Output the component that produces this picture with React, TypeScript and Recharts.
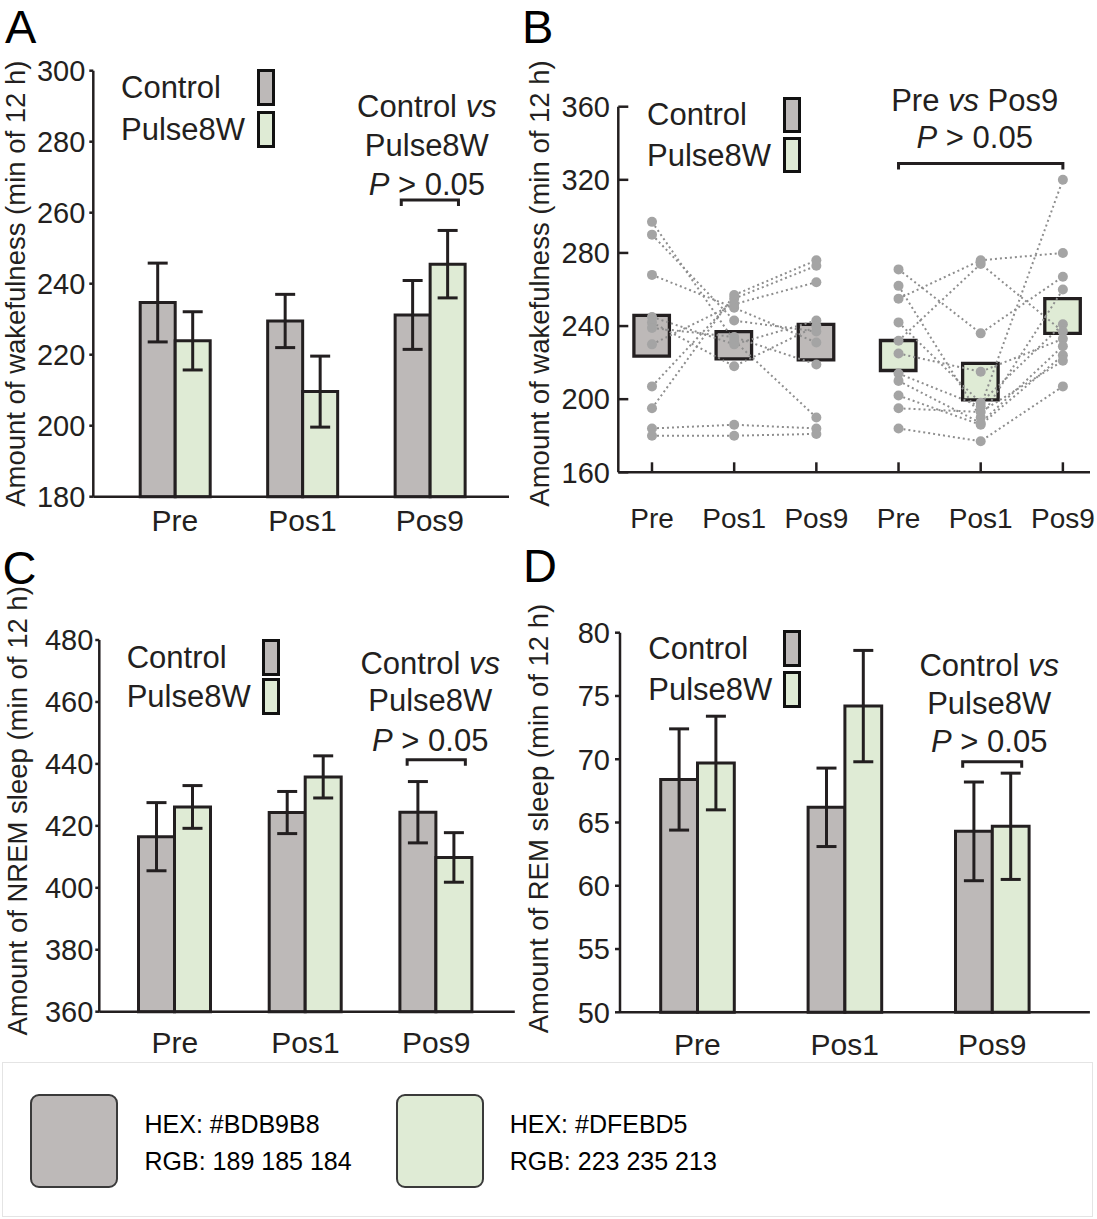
import React from "react"
import {
  BarChart,
  Bar,
  ComposedChart,
  Line,
  XAxis,
  YAxis,
  ErrorBar,
  Cell,
  Legend,
  ReferenceDot,
  ReferenceLine,
} from "recharts"

const INK = "#231f20"
const FONT = '"Liberation Sans", Arial, Helvetica, sans-serif'
const CONTROL_FILL = "#BDB9B8"
const PULSE_FILL = "#DFEBD5"
const MOUSE_DOT = "#a4a4a4"
const MOUSE_LINE = "#8e8e8e"

const phases = ["Pre", "Pos1", "Pos9"]
const groupNames = ["Control", "Pulse8W"]
const groupFills = [CONTROL_FILL, PULSE_FILL]
const groupRgb = ["189 185 184", "223 235 213"]

// wakefulness, mean ± SEM (min of 12 h) – panel A bars and panel B boxes
const wakeControlMean = [234.7, 229.5, 231.2]
const wakeControlSem = [11.1, 7.5, 9.7]
const wakePulseMean = [223.9, 209.6, 245.5]
const wakePulseSem = [8.2, 10, 9.5]

// panel B, single mice (same index = same mouse across phases)
const controlPreMice = [297, 290, 268, 245, 242, 239, 230, 207, 195, 184, 180]
const controlPos1Mice = [232, 243, 250, 230, 218, 234, 252, 255, 257, 186, 180]
const controlPos9Mice = [190, 237, 231, 243, 240, 219, 264, 273, 276, 184, 181]
const pulsePreMice = [271, 262, 255, 242, 232, 225, 214, 210, 202, 195, 184]
const pulsePos1Mice = [236, 190, 276, 198, 274, 215, 196, 187, 186, 193, 177]
const pulsePos9Mice = [267, 260, 280, 241, 237, 233, 320, 229, 224, 221, 207]

// NREM sleep (panel C)
const nremControlMean = [416.5, 424.3, 424.4]
const nremControlSem = [11, 6.8, 9.9]
const nremPulseMean = [426.1, 435.8, 409.8]
const nremPulseSem = [6.9, 6.8, 8]

// REM sleep (panel D)
const remControlMean = [68.4, 66.2, 64.3]
const remControlSem = [4, 3.1, 3.9]
const remPulseMean = [69.7, 74.2, 64.7]
const remPulseSem = [3.7, 4.4, 4.2]

const wakeTicks = [180, 200, 220, 240, 260, 280, 300]
const mouseTicks = [160, 200, 240, 280, 320, 360]
const nremTicks = [360, 380, 400, 420, 440, 460, 480]
const remTicks = [50, 55, 60, 65, 70, 75, 80]

const barRows = (cm: number[], cs: number[], pm: number[], ps: number[]) =>
  phases.map((phase, i) => ({ phase, control: cm[i], controlSem: cs[i], pulse: pm[i], pulseSem: ps[i] }))

const wakeRows = barRows(wakeControlMean, wakeControlSem, wakePulseMean, wakePulseSem)
const nremRows = barRows(nremControlMean, nremControlSem, nremPulseMean, nremPulseSem)
const remRows = barRows(remControlMean, remControlSem, remPulseMean, remPulseSem)

const controlMice = [controlPreMice, controlPos1Mice, controlPos9Mice]
const pulseMice = [pulsePreMice, pulsePos1Mice, pulsePos9Mice]
const mouseRows = [...controlMice, ...pulseMice].map((mice, i) => {
  const g = i < 3 ? 0 : 1
  const p = i % 3
  const mean = g === 0 ? wakeControlMean[p] : wakePulseMean[p]
  const sem = g === 0 ? wakeControlSem[p] : wakePulseSem[p]
  const row: Record<string, any> = { x: i + 1, label: phases[p], group: g, box: [mean - sem, mean + sem] }
  mice.forEach((v, m) => {
    row[`${g === 0 ? "c" : "p"}${m}`] = v
  })
  return row
})
const mouseKeys = [...controlPreMice.map((_, m) => `c${m}`), ...pulsePreMice.map((_, m) => `p${m}`)]

const axisStroke = { stroke: INK, strokeWidth: 2.5 }

type Seg = { t: string; it?: boolean }
const groupNote: Seg[][] = [
  [{ t: "Control " }, { t: "vs", it: true }],
  [{ t: "Pulse8W" }],
  [{ t: "P", it: true }, { t: " > 0.05" }],
]
const phaseNote: Seg[][] = [
  [{ t: "Pre " }, { t: "vs", it: true }, { t: " Pos9" }],
  [{ t: "P", it: true }, { t: " > 0.05" }],
]

function noteText(lines: Seg[][], x: number, ys: number[]) {
  return lines.map((segs, i) => (
    <text key={i} x={x} y={ys[i]} textAnchor="middle" fontSize={31} fill={INK}>
      {segs.map((s, j) => (
        <tspan key={j} fontStyle={s.it ? "italic" : "normal"}>
          {s.t}
        </tspan>
      ))}
    </text>
  ))
}

function bracketPath(x1: number, x2: number, y: number) {
  return `M${x1},${y + 6}V${y}H${x2}V${y + 6}`
}

type KeyPos = { textX: number; swatchX: number; top: number; rowH: number; gap: number }

function GroupKey({ pos }: { pos: KeyPos }) {
  return (
    <div style={{ fontFamily: FONT }}>
      {groupNames.map((name, i) => (
        <div
          key={name}
          style={{ display: "flex", alignItems: "center", height: pos.rowH, marginBottom: i === 0 ? pos.gap : 0 }}
        >
          <span
            style={{
              marginLeft: pos.textX,
              width: pos.swatchX - pos.textX,
              fontSize: 31,
              lineHeight: 1,
              color: INK,
              whiteSpace: "nowrap",
            }}
          >
            {name}
          </span>
          <div
            style={{
              width: 18,
              height: pos.rowH,
              boxSizing: "border-box",
              border: "3px solid #111",
              background: groupFills[i],
            }}
          />
        </div>
      ))}
    </div>
  )
}

function keyLegend(pos: KeyPos) {
  return (
    <Legend
      layout="vertical"
      align="center"
      verticalAlign="middle"
      wrapperStyle={{ left: 0, top: pos.top, width: pos.swatchX + 20, height: "auto" }}
      content={() => <GroupKey pos={pos} />}
    />
  )
}

type BarPanelProps = {
  rows: any[]
  left: number
  top: number
  width: number
  height: number
  plotLeft: number
  plotTop: number
  plotRight: number
  plotBottom: number
  padL: number
  padR: number
  barSize: number
  domain: [number, number]
  ticks: number[]
  yLabel: string
  labelX: number
  labelDy: number
  yTickSize: number
  yTickMargin: number
  xTickMargin: number
  keyPos: KeyPos
  bracketY: number
  bracketHalf: number
  noteDx: number
  noteYs: number[]
}

function BarPanel(p: BarPanelProps) {
  return (
    <div style={{ position: "absolute", left: p.left, top: p.top }}>
      <BarChart
        width={p.width}
        height={p.height}
        data={p.rows}
        margin={{ top: p.plotTop, right: p.width - p.plotRight, bottom: 0, left: 0 }}
        barGap={0}
        barSize={p.barSize}
      >
        <XAxis
          dataKey="phase"
          height={p.height - p.plotBottom}
          padding={{ left: p.padL, right: p.padR }}
          interval={0}
          tickLine={false}
          tickSize={0}
          tickMargin={p.xTickMargin}
          axisLine={axisStroke}
          tick={{ fontSize: 30, fill: INK }}
        />
        <YAxis
          width={p.plotLeft}
          domain={p.domain}
          ticks={p.ticks}
          interval={0}
          tickSize={p.yTickSize}
          tickMargin={p.yTickMargin}
          tickLine={axisStroke}
          axisLine={axisStroke}
          tick={{ fontSize: 29, fill: INK }}
          label={{
            value: p.yLabel,
            angle: -90,
            position: "insideLeft",
            offset: p.labelX,
            dy: p.labelDy,
            fontSize: 27.5,
            fill: INK,
            style: { textAnchor: "middle", fontSize: 27.5, fill: INK },
          }}
        />
        {keyLegend(p.keyPos)}
        <Bar dataKey="control" name="Control" fill={CONTROL_FILL} stroke={INK} strokeWidth={3} isAnimationActive={false}>
          <ErrorBar dataKey="controlSem" width={10} stroke={INK} strokeWidth={3} isAnimationActive={false} />
        </Bar>
        <Bar dataKey="pulse" name="Pulse8W" fill={PULSE_FILL} stroke={INK} strokeWidth={3} isAnimationActive={false}>
          <ErrorBar dataKey="pulseSem" width={10} stroke={INK} strokeWidth={3} isAnimationActive={false} />
        </Bar>
        <ReferenceDot
          x="Pos9"
          y={p.bracketY}
          r={2}
          shape={(s: any) => (
            <g>
              <path
                d={bracketPath(s.cx - p.bracketHalf, s.cx + p.bracketHalf, s.cy)}
                fill="none"
                stroke={INK}
                strokeWidth={3}
              />
              {noteText(groupNote, s.cx + p.noteDx, p.noteYs.map((y) => s.cy + y))}
            </g>
          )}
        />
      </BarChart>
    </div>
  )
}

function MousePanel() {
  return (
    <div style={{ position: "absolute", left: 515, top: 0 }}>
      <ComposedChart width={582} height={540} data={mouseRows} margin={{ top: 106.7, right: 7, bottom: 0, left: 0 }}>
        <XAxis
          type="number"
          dataKey="x"
          domain={[0.59, 6.33]}
          ticks={[1, 2, 3, 4, 5, 6]}
          interval={0}
          allowDataOverflow
          tickFormatter={(v: number) => mouseRows[v - 1]?.label ?? ""}
          height={67.7}
          tickSize={-10}
          tickMargin={46}
          tickLine={axisStroke}
          axisLine={axisStroke}
          tick={{ fontSize: 28, fill: INK }}
        />
        <YAxis
          width={103.3}
          domain={[160, 360]}
          ticks={mouseTicks}
          interval={0}
          tickSize={-10}
          tickMargin={18.3}
          tickLine={axisStroke}
          axisLine={axisStroke}
          tick={{ fontSize: 29, fill: INK }}
          label={{
            value: "Amount of wakefulness (min of 12 h)",
            angle: -90,
            position: "insideLeft",
            offset: 24,
            dy: -6,
            fontSize: 27.5,
            fill: INK,
            style: { textAnchor: "middle", fontSize: 27.5, fill: INK },
          }}
        />
        {keyLegend({ textX: 132, swatchX: 268, top: 96.7, rowH: 36, gap: 4.5 })}
        <Bar dataKey="box" barSize={35.5} stroke={INK} strokeWidth={3.3} isAnimationActive={false} legendType="none">
          {mouseRows.map((r) => (
            <Cell key={r.x} fill={groupFills[r.group]} />
          ))}
        </Bar>
        {mouseKeys.map((k) => (
          <Line
            key={k}
            dataKey={k}
            stroke={MOUSE_LINE}
            strokeWidth={2}
            strokeDasharray="2 3"
            dot={{ r: 5, fill: MOUSE_DOT, stroke: "none", strokeDasharray: "" }}
            activeDot={false}
            legendType="none"
            isAnimationActive={false}
          />
        ))}
        <ReferenceLine
          segment={[
            { x: 4, y: 328.9 },
            { x: 6, y: 328.9 },
          ]}
          shape={(s: any) => (
            <g>
              <path d={bracketPath(s.x1, s.x2, s.y1)} fill="none" stroke={INK} strokeWidth={3} />
              {noteText(phaseNote, (s.x1 + s.x2) / 2 - 6, [s.y1 - 52.3, s.y1 - 15.6])}
            </g>
          )}
        />
      </ComposedChart>
    </div>
  )
}

const panelLetters = [
  { t: "A", left: 5, top: 2.7 },
  { t: "B", left: 522, top: 3.2 },
  { t: "C", left: 2.6, top: 543.5 },
  { t: "D", left: 523, top: 541.9 },
]

const keySwatchLeft = [29.4, 395.4]
const keyTextLeft = [143.5, 508.7]

export default function App() {
  return (
    <div
      style={{
        position: "absolute",
        left: 0,
        top: 0,
        width: 1097,
        height: 1219,
        background: "#fff",
        fontFamily: FONT,
        color: INK,
        overflow: "hidden",
      }}
    >
      <BarPanel
        rows={wakeRows}
        left={0}
        top={0}
        width={515}
        height={540}
        plotLeft={93.3}
        plotTop={70.7}
        plotRight={509}
        plotBottom={496.7}
        padL={17.9}
        padR={15.4}
        barSize={35}
        domain={[180, 300]}
        ticks={wakeTicks}
        yLabel="Amount of wakefulness (min of 12 h)"
        labelX={15.5}
        labelDy={0}
        yTickSize={4}
        yTickMargin={4}
        xTickMargin={13}
        keyPos={{ textX: 121, swatchX: 256.5, top: 69, rowH: 37, gap: 5 }}
        bracketY={263.6}
        bracketHalf={28.6}
        noteDx={-3}
        noteYs={[-83, -43.5, -5]}
      />
      <MousePanel />
      <BarPanel
        rows={nremRows}
        left={0}
        top={560}
        width={515}
        height={500}
        plotLeft={99.3}
        plotTop={80}
        plotRight={514.8}
        plotBottom={451.7}
        padL={10.2}
        padR={13.2}
        barSize={36}
        domain={[360, 480]}
        ticks={nremTicks}
        yLabel="Amount of NREM sleep (min of 12 h)"
        labelX={17.5}
        labelDy={-15}
        yTickSize={4}
        yTickMargin={2}
        xTickMargin={20}
        keyPos={{ textX: 126.7, swatchX: 261.7, top: 79, rowH: 37, gap: 2 }}
        bracketY={441.3}
        bracketHalf={29.1}
        noteDx={-6}
        noteYs={[-86, -49, -9]}
      />
      <BarPanel
        rows={remRows}
        left={515}
        top={560}
        width={582}
        height={500}
        plotLeft={105}
        plotTop={72.7}
        plotRight={574.9}
        plotBottom={452.3}
        padL={3.7}
        padR={24}
        barSize={36.8}
        domain={[50, 80]}
        ticks={remTicks}
        yLabel="Amount of REM sleep (min of 12 h)"
        labelX={23}
        labelDy={-4}
        yTickSize={5}
        yTickMargin={5}
        xTickMargin={21}
        keyPos={{ textX: 133.3, swatchX: 268.3, top: 70, rowH: 37, gap: 4 }}
        bracketY={69.8}
        bracketHalf={29.5}
        noteDx={-3}
        noteYs={[-85.7, -48, -9.7]}
      />
      {panelLetters.map((l) => (
        <div
          key={l.t}
          style={{ position: "absolute", left: l.left, top: l.top, fontSize: 47, lineHeight: "47px", color: "#000" }}
        >
          {l.t}
        </div>
      ))}
      <div
        style={{
          position: "absolute",
          left: 2,
          top: 1062,
          width: 1091,
          height: 155,
          border: "1px solid #e4e4e4",
          boxSizing: "border-box",
        }}
      >
        {groupFills.map((fill, i) => (
          <React.Fragment key={fill}>
            <div
              style={{
                position: "absolute",
                left: keySwatchLeft[i] - 2,
                top: 30.7,
                width: 88,
                height: 94,
                borderRadius: 9,
                border: "2px solid #3a3a3a",
                boxSizing: "border-box",
                background: fill,
              }}
            />
            <div
              style={{
                position: "absolute",
                left: keyTextLeft[i] - 2,
                top: 49,
                fontSize: 25,
                lineHeight: "25px",
                color: "#000",
                whiteSpace: "nowrap",
              }}
            >
              HEX: {fill}
            </div>
            <div
              style={{
                position: "absolute",
                left: keyTextLeft[i] - 2,
                top: 86.4,
                fontSize: 25,
                lineHeight: "25px",
                color: "#000",
                whiteSpace: "nowrap",
              }}
            >
              RGB: {groupRgb[i]}
            </div>
          </React.Fragment>
        ))}
      </div>
    </div>
  )
}
